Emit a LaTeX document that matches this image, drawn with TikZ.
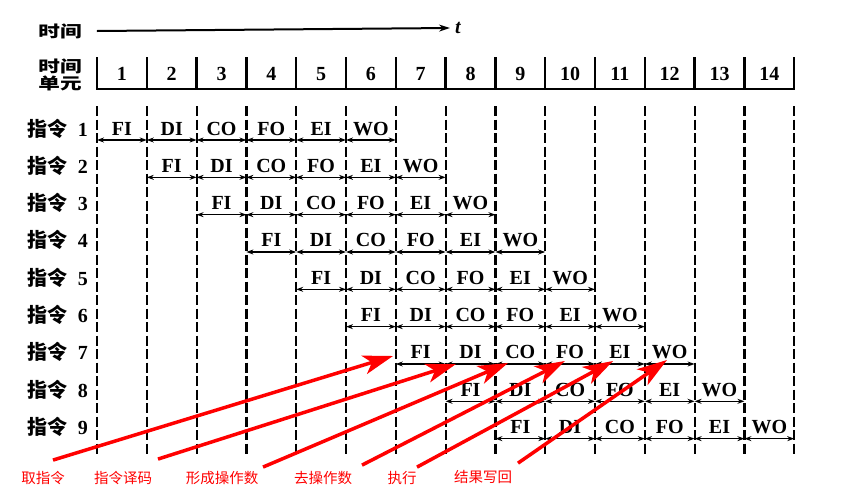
\documentclass[tikz,border=0pt]{standalone}
\usepackage{fontspec}
\setmainfont{Liberation Serif}
\newfontfamily\cjk{Noto Sans CJK SC}
\usetikzlibrary{
    arrows.meta,
    calc,
    positioning
}

\begin{document}
\begin{tikzpicture}[x=1pt, y=-1pt,
    grid/.style={line width=2.2pt, dash pattern=on 10pt off 3.5pt},
    bar/.style={line width=2.4pt},
    span/.style={line width=1.4pt, {Stealth[length=7pt,width=5pt]}-{Stealth[length=7pt,width=5pt]}},
    stage/.style={font=\bfseries\fontsize{20}{20}\selectfont, inner sep=0pt, anchor=base},
    head/.style={font=\cjk\bfseries\fontsize{16}{16}\selectfont, xscale=1.35, inner sep=0pt, align=center},
    instr/.style={font=\bfseries\fontsize{20}{20}\selectfont, inner sep=0pt, anchor=base east},
    note/.style={font=\cjk\fontsize{14.5}{14.5}\selectfont, text=red, inner sep=0pt},
    pointer/.style={draw=red, line width=3.5pt, -{Stealth[length=30pt,width=19pt,inset=8pt]}}
]
    \useasboundingbox (0,0) rectangle (864,496);
    % time axis
    \node[head] (sj) at (60,31) {时间};
    \node[font=\bfseries\itshape\fontsize{20}{20}\selectfont, inner sep=0pt] (t) at (458,28) {t};
    \draw[line width=2pt, -{Stealth[length=11pt,width=7pt]}] ([xshift=15pt]sj.east) -- ([xshift=-5pt]t.west);
    % time units
    \node[head, font=\cjk\bfseries\fontsize{16}{17}\selectfont] (sjdy) at (60,75) {时间\\单元};
    \draw[bar] (97,57) -- (97,89) -- (794,89) -- (794,57);
    \foreach \k in {1,...,13}
        \draw[bar] (97+49.8*\k,57) -- (97+49.8*\k,89);
    \foreach \k in {1,...,14}
        \node[stage] (h\k) at (97+49.8*\k-24.9,80) {\k};
    \foreach \k in {0,...,14}
        \draw[grid] (97+49.8*\k,106) -- (97+49.8*\k,455);
    % instructions
    \foreach \i in {1,...,9} {
        \pgfmathsetmacro{\yl}{140+37.33*(\i-1)}
        \node[instr] (zl\i) at (88,\yl-4) {{\cjk 指令}~~\i};
        \foreach \s [count=\j from 0] in {FI,DI,CO,FO,EI,WO} {
            \pgfmathsetmacro{\xa}{97+49.8*(\i-1+\j)}
            \node[stage] (s\i\s) at (\xa+24.9,\yl-5) {\s};
            \draw[span] (\xa,\yl) -- (\xa+49.8,\yl);
        }
    }
    % stage names
    \node[note] (qzl) at (43,478) {取指令};
    \node[note] (zlym) at (123,478) {指令译码};
    \node[note] (xcczs) at (222,478) {形成操作数};
    \node[note] (qczs) at (323,478) {去操作数};
    \node[note] (zx) at (402,478) {执行};
    \node[note] (jgxh) at (483,477) {结果写回};
    \coordinate (p1) at (393,356);
    \coordinate (p2) at (456,364);
    \coordinate (p3) at (508,363);
    \coordinate (p4) at (565,361);
    \coordinate (p5) at (613,361);
    \coordinate (p6) at (667,360);
    \draw[pointer] ([shift={(10,-11)}]qzl.north) -- (p1);
    \draw[pointer] ([shift={(35,-12)}]zlym.north) -- (p2);
    \draw[pointer] ([shift={(41,-4)}]xcczs.north) -- (p3);
    \draw[pointer] ([shift={(39,-6)}]qczs.north) -- (p4);
    \draw[pointer] ([shift={(15,-4)}]zx.north) -- (p5);
    \draw[pointer] ([shift={(35,-7)}]jgxh.north) -- (p6);
\end{tikzpicture}
\end{document}
